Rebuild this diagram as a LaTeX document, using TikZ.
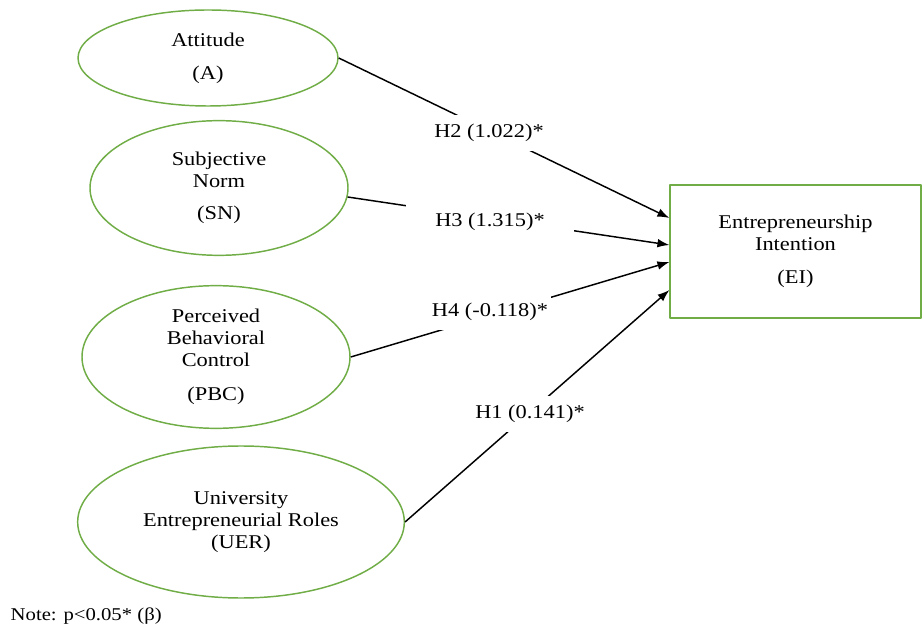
\documentclass[tikz,border=0pt]{standalone}
\usepackage{fontspec}
\setmainfont{Liberation Serif}[FakeStretch=1.15]
\usetikzlibrary{shapes.geometric, arrows.meta}
\tikzset{>={Latex[length=9pt,width=6.5pt]}}
\definecolor{leafgreen}{RGB}{112,173,71}

\begin{document}
\begin{tikzpicture}[x=0.75pt, y=-0.75pt, line join = round,
    construct/.style={ellipse, draw=leafgreen, line width=1.1pt, inner sep=0pt, align=center, font=\fontsize{14.6}{16.5}\selectfont},
    outcome/.style={rectangle, draw=leafgreen, line width=1.1pt, inner sep=0pt, align=center, font=\fontsize{14.6}{16.5}\selectfont},
    path/.style={->, line width=1.1pt},
    coef/.style={fill=white, inner xsep=2pt, inner ysep=7pt, font=\fontsize{14.6}{16.5}\selectfont}]
    \useasboundingbox (0,0) rectangle (924,630);
    \node[construct, minimum width=195pt, minimum height=72pt] (att) at (208,58) {Attitude \\[8pt] (A)};
    \node[construct, minimum width=193.5pt, minimum height=101pt] (sn) at (219,188) {Subjective \\ Norm \\[7.5pt] (SN)};
    \node[construct, minimum width=201pt, minimum height=107pt] (pbc) at (216,357) {Perceived \\ Behavioral \\ Control \\[9pt] (PBC)};
    \node[construct, minimum width=245pt, minimum height=114pt] (uer) at (241,522) {University \\ Entrepreneurial Roles \\ (UER)};
    \node[outcome, minimum width=188pt, minimum height=100pt] (ei) at (795.5,251.5) {Entrepreneurship \\ Intention \\[8pt] (EI)};

    \draw[path] (att.east) -- (ei.west |- 0,218);
    \draw[path] (sn.-4) -- (ei.west |- 0,245);
    \draw[path] (pbc.east) -- (ei.west |- 0,262);
    \draw[path] (uer.east) -- (ei.west |- 0,290);

    % coefficients sit on top of the paths
    \node[coef] (h2) at (489,133) {H2 (1.022)*};
    \node[coef, inner xsep=22pt] (h3) at (490,222) {H3 (1.315)*};
    \node[coef] (h4) at (490,312) {H4 (-0.118)*};
    \node[coef] (h1) at (530,414) {H1 (0.141)*};

    \node[anchor=west, font=\fontsize{13.5}{15}\selectfont] (note) at (6,616) {Note: p<0.05* (β)};
\end{tikzpicture}
\end{document}
